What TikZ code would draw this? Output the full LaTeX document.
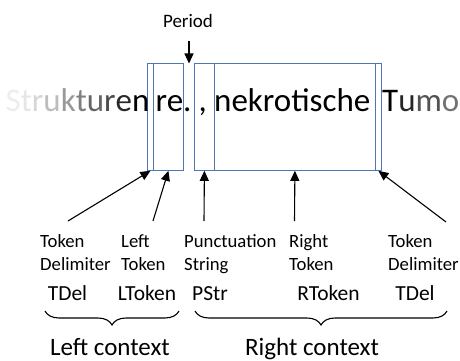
\documentclass[tikz,border=0pt]{standalone}
\usepackage{fontspec}
\setmainfont{Carlito}
\usetikzlibrary{arrows.meta,decorations.pathreplacing}
\definecolor{boxblue}{RGB}{79,118,178}
\begin{document}
\begin{tikzpicture}[x=1pt,y=-1pt,
  seg/.style={draw=boxblue,line width=0.8pt,rectangle,inner sep=0pt,
              minimum height=107pt,anchor=north west},
  word/.style={inner sep=0pt,anchor=base west,font=\fontsize{33}{39}\selectfont},
  lbl/.style={inner sep=0pt,anchor=base west,align=left,font=\fontsize{18.7}{23}\selectfont},
  tok/.style={inner sep=0pt,anchor=base,font=\fontsize{21.5}{26}\selectfont},
  ctx/.style={inner sep=0pt,anchor=base,font=\fontsize{25}{30}\selectfont},
  arr/.style={line width=1.1pt,-{Triangle[length=10pt,width=9pt]}},
  brc/.style={line width=1.1pt,decorate,decoration={brace,mirror,amplitude=14pt}}]
\useasboundingbox (0,0) rectangle (460,361);

% token segments around the period
\node[seg,minimum width=6pt]   (tdelL) at (147,63) {};
\node[seg,minimum width=30pt]  (ltok)  at (153,63) {};
\node[seg,minimum width=20pt]  (pstr)  at (194,63) {};
\node[seg,minimum width=161pt] (rtok)  at (214,63) {};
\node[seg,minimum width=6pt]   (tdelR) at (375,63) {};

% the running text
\node[word] (w1) at (5.5,111) {\textcolor{black!7}{S}\textcolor{black!10}{t}\textcolor{black!16}{r}\textcolor{black!26}{u}\textcolor{black!40}{k}\textcolor{black!50}{t}\textcolor{black!60}{u}\textcolor{black!70}{r}\textcolor{black!84}{e}n};
\node[word] (w2) at (155.5,111) {re.};
\node[word] (w3) at (198.5,111) {,};
\node[word] (w4) at (214,111) {nekrotische};
\node[word] (w5) at (382,111) {T\textcolor{black!85}{u}\textcolor{black!68}{m}\textcolor{black!55}{o}\textcolor{black!45}{r}};

% period marker
\node[inner sep=0pt,anchor=base,font=\fontsize{19}{23}\selectfont] (per) at (188,28) {Period};
\coordinate (perTop) at (189,41);
\coordinate (perPt) at (189,63.5);
\draw[arr] (perTop) -- (perPt);

% descriptive labels (base anchor sits on the second line)
\node[lbl] (l1) at (40,270)  {Token\\Delimiter};
\node[lbl] (l2) at (121,270) {Left\\Token};
\node[lbl] (l3) at (184,270) {Punctuation\\String};
\node[lbl] (l4) at (289,270) {Right\\Token};
\node[lbl] (l5) at (388,270) {Token\\Delimiter};

% arrows from labels to segments
\coordinate (s1) at (68,221);
\coordinate (s2) at (153,221);
\coordinate (s3) at (204,221);
\coordinate (s4) at (294.5,221);
\coordinate (s5) at (446,222);
\draw[arr] (s1) -- (tdelL.south);
\draw[arr] (s2) -- (ltok.south);
\draw[arr] (s3) -- (pstr.south);
\draw[arr] (s4) -- (rtok.south);
\draw[arr] (s5) -- (tdelR.south);

% abbreviations
\node[tok] (a1) at (67.5,300) {TDel};
\node[tok] (a2) at (147,300)  {LToken};
\node[tok] (a3) at (210,300)  {PStr};
\node[tok] (a4) at (328.5,300) {RToken};
\node[tok] (a5) at (415,300)  {TDel};

% context braces
\coordinate (bl1) at (45,311);
\coordinate (bl2) at (179,311);
\coordinate (br1) at (195,311);
\coordinate (br2) at (447,311);
\draw[brc] (bl1) -- (bl2);
\draw[brc] (br1) -- (br2);
\node[ctx] (c1) at (110,355) {Left context};
\node[ctx] (c2) at (312,355) {Right context};
\end{tikzpicture}
\end{document}
